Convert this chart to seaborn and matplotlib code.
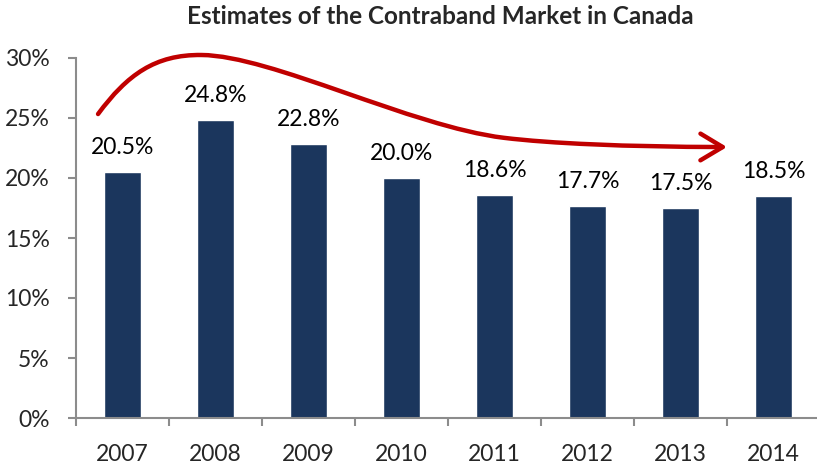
import matplotlib
matplotlib.use("Agg")
import matplotlib.pyplot as plt
import seaborn as sns
import pandas as pd
from matplotlib.path import Path
from matplotlib.patches import FancyArrowPatch
from matplotlib.ticker import FixedLocator, FuncFormatter

# Contraband share of the Canadian tobacco market, by year
years = ["2007", "2008", "2009", "2010", "2011", "2012", "2013", "2014"]
share = [20.5, 24.8, 22.8, 20.0, 18.6, 17.7, 17.5, 18.5]
y_ticks = [0, 5, 10, 15, 20, 25, 30]
title = "Estimates of the Contraband Market in Canada"

bar_color = "#1B365D"
axis_gray = "#8C8C8C"
arrow_red = "#C00000"

sns.set_style("white")
plt.rcParams["font.family"] = ["Lato", "DejaVu Sans"]

W, H = 817, 465
fig = plt.figure(figsize=(W / 100, H / 100), dpi=100)
ax = fig.add_axes([76 / W, 47 / H, 744 / W, 360 / H])

df = pd.DataFrame({"year": years, "share": share})
sns.barplot(data=df, x="year", y="share", color=bar_color, saturation=1,
            width=0.4, ax=ax)

ax.set_xlim(-0.5, len(years) - 0.5)
ax.set_ylim(0, 30)
ax.set_xlabel("")
ax.set_ylabel("")

# Value labels above each bar
for bar, v in zip(ax.patches, share):
    ax.annotate(f"{v:.1f}%", (bar.get_x() + bar.get_width() / 2, v),
                xytext=(0, 13), textcoords="offset points",
                ha="center", va="baseline", fontsize=16.5, color="black")

# Axes styling
sns.despine(ax=ax)
for side in ("left", "bottom"):
    ax.spines[side].set_color(axis_gray)
    ax.spines[side].set_linewidth(1.5)

ax.set_yticks(y_ticks)
ax.yaxis.set_major_formatter(FuncFormatter(lambda v, _: f"{v:.0f}%"))
ax.tick_params(axis="y", left=True, length=6, width=1.5, color=axis_gray,
               pad=13, labelsize=16.5)

ax.xaxis.set_minor_locator(FixedLocator([i - 0.5 for i in range(len(years) + 1)]))
ax.tick_params(axis="x", which="major", bottom=True, length=0, pad=19,
               labelsize=16.5)
ax.tick_params(axis="x", which="minor", bottom=True, length=6, width=1.5,
               color=axis_gray)

# Trend arrow sweeping over the bars
verts = [(-0.263, 25.33), (0.05, 28.6), (0.35, 30.3), (0.85, 30.25),
         (1.6, 30.2), (3.1, 24.3), (4.1, 23.35),
         (4.6, 22.88), (5.4, 22.6), (6.5, 22.58)]
codes = [Path.MOVETO] + [Path.CURVE4] * 9
arrow = FancyArrowPatch(path=Path(verts, codes),
                        arrowstyle="->,head_length=1.0,head_width=0.6",
                        mutation_scale=16, color=arrow_red, lw=3.2,
                        transform=ax.transData, clip_on=False)
ax.add_patch(arrow)

fig.text(440 / W, 1 - 17 / H, title, ha="center", va="center",
         fontsize=17.5, fontweight="bold")

fig.savefig("out.png", dpi=100)
